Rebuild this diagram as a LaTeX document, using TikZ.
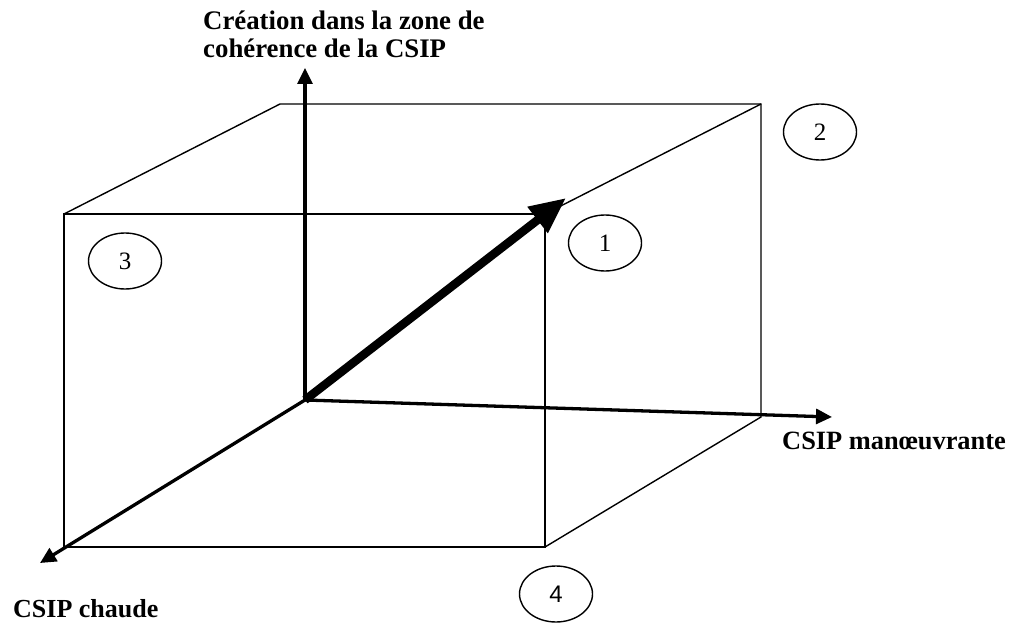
\documentclass[tikz,border=0pt]{standalone}
\usepackage{fontspec}
\setmainfont{Liberation Serif}
\newfontfamily\numsans{Liberation Sans}
\usetikzlibrary{arrows.meta,shapes.geometric}
\begin{document}
\begin{tikzpicture}[x=1pt,y=-1pt,
  edge/.style={line width=1.4pt},
  axis/.style={line width=3.3pt,-{Triangle[length=16pt,width=15pt]}},
  bigarrow/.style={line width=8.5pt,-{Triangle[length=36pt,width=31pt]}},
  lbl/.style={font=\fontsize{26.8}{27.5}\selectfont\bfseries, inner sep=0pt, align=left},
  num/.style={draw, ellipse, line width=1.4pt, minimum width=73pt, minimum height=56pt, inner sep=0pt, font=\fontsize{25}{26}\selectfont}]
\useasboundingbox (0,0) rectangle (1010,623);
% cube corners
\coordinate (FTL) at (64,214);
\coordinate (FTR) at (545,214);
\coordinate (FBR) at (545,547);
\coordinate (FBL) at (64,547);
\coordinate (BTL) at (280,104);
\coordinate (BTR) at (761,104);
\coordinate (BBR) at (761,417);
% cube edges
\draw[edge] (FTL) -- (FTR) -- (FBR) -- (FBL) -- cycle;
\draw[edge] (FTL) -- (BTL) -- (BTR) -- (BBR) -- (FBR);
\draw[edge] (FTR) -- (BTR);
% axes
\coordinate (O) at (305,400);
\coordinate (Z) at (305,68);
\coordinate (X) at (832,417);
\coordinate (Y) at (40,563);
\coordinate (T) at (566,198);
\draw[axis] (O) -- (Z);
\draw[axis] (O) -- (X);
\draw[axis] (O) -- (Y);
\draw[bigarrow] (O) -- (T);
% labels
\node[lbl, anchor=north west] (lz) at (203,11) {Création dans la zone de\\cohérence de la CSIP};
\node[lbl, font=\fontsize{26.4}{27.5}\selectfont\bfseries, anchor=base west] (lx) at (782,449) {CSIP manœuvrante};
\node[lbl, font=\fontsize{26}{27.5}\selectfont\bfseries, anchor=base west] (ly) at (13,617) {CSIP chaude};
% numbered ellipses
\node[num] (e1) at (605,243) {1};
\node[num] (e2) at (820,132) {2};
\node[num] (e3) at (125,261) {3};
\node[num, font=\fontsize{24}{26}\selectfont\numsans] (e4) at (556,594) {4};
\end{tikzpicture}
\end{document}
